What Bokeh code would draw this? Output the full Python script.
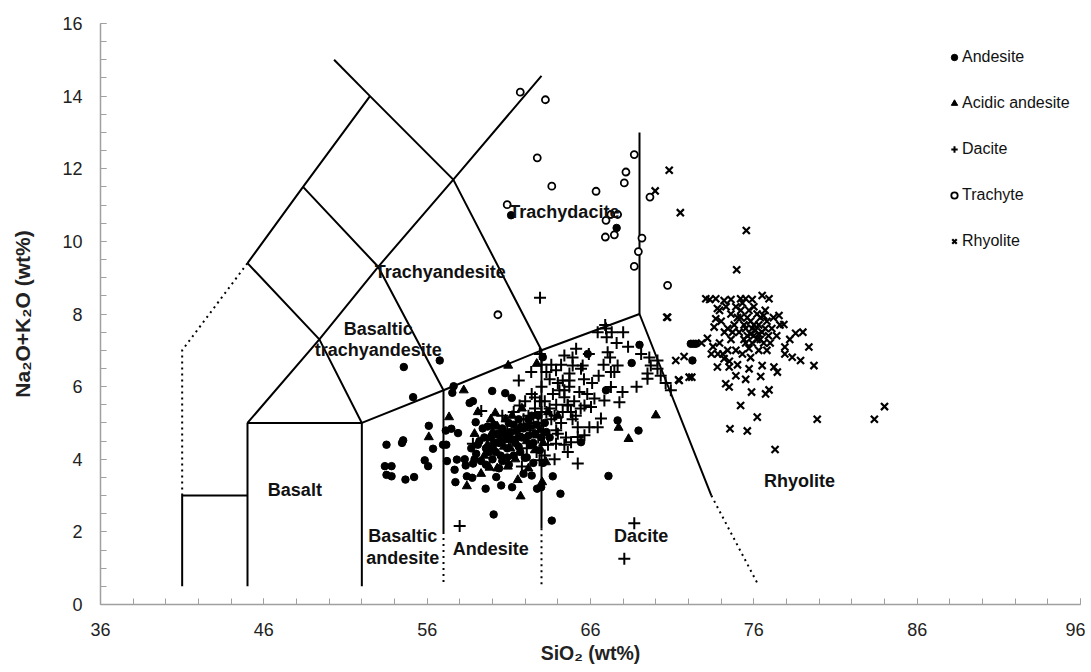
from bokeh.plotting import figure
from bokeh.models import Range1d, Label, Legend, LegendItem, FixedTicker
from bokeh.embed import file_html
from bokeh.resources import INLINE

# ---------------- data ----------------
andesite_x = [53.41, 53.82, 53.51, 53.82, 54.67, 55.2, 53.51, 54.53, 54.46, 55.85, 56.06, 56.1, 56.36, 56.97, 57.17,
              57.14, 57.48, 57.89, 54.57, 56.77, 55.14, 57.62, 57.54, 58.8, 58.6, 59.98, 60.78, 61.18, 58.97, 57.21,
              57.82, 57.68, 57.73, 58.36, 58.81, 58.43, 58.76, 59.58, 60.23, 60.53, 61.2, 60.07, 61.98, 62.73, 63.63,
              64.16, 62.98, 63.69, 67.1, 65.42, 67.66, 68.94, 68.52, 69.0, 65.83, 63.08, 66.95, 67.6, 61.14, 72.14,
              72.3, 72.45, 72.24,
              59.2, 59.6, 59.9, 60.2, 60.4, 60.7, 60.9, 61.2, 61.5, 61.3, 61.8, 62.0, 62.3, 62.6, 62.2, 60.0, 60.6,
              61.6, 59.4, 60.1, 61.0, 62.8, 63.2, 63.5, 62.5, 59.0, 58.7, 58.3, 59.3, 60.4, 61.9, 62.4, 63.1,
              59.5, 59.8, 60.1, 60.3, 60.5, 60.8, 61.1, 61.4, 61.7, 61.9, 62.2, 62.5, 62.7, 63.0, 60.6, 61.3,
              59.7, 60.9, 62.1, 62.9, 63.3, 59.1, 60.0, 61.6, 62.4, 58.9, 59.6, 61.0]
andesite_y = [3.81, 3.81, 3.57, 3.53, 3.44, 3.51, 4.40, 4.52, 4.45, 3.97, 3.81, 4.92, 4.29, 4.40, 4.40,
              4.79, 4.84, 4.72, 6.54, 6.72, 5.71, 6.01, 5.83, 5.60, 5.55, 5.88, 5.82, 5.69, 5.02, 3.95,
              3.99, 3.71, 3.37, 3.83, 3.88, 3.53, 3.49, 3.19, 3.51, 3.28, 3.23, 2.48, 4.04, 3.19, 2.31,
              3.05, 3.23, 3.53, 3.54, 4.47, 5.07, 4.79, 6.65, 7.15, 6.90, 6.81, 5.90, 10.37, 10.72, 7.18,
              7.18, 7.18, 6.72,
              4.5, 4.3, 4.6, 4.2, 4.45, 4.7, 4.3, 4.55, 4.8, 4.1, 4.6, 4.9, 4.4, 4.7, 5.1, 4.0, 3.95,
              4.35, 4.85, 4.95, 5.0, 5.2, 5.0, 4.6, 3.9, 4.15, 4.3, 4.0, 3.95, 3.75, 3.6, 3.55, 3.9,
              4.6, 4.2, 4.45, 4.7, 4.1, 4.55, 4.75, 4.45, 4.2, 4.85, 4.65, 4.45, 4.95, 4.6, 4.85, 4.95,
              4.9, 4.05, 4.05, 4.25, 4.75, 4.4, 4.3, 5.1, 5.2, 4.0, 3.85, 3.85]

acidic_x = [58.24, 60.96, 57.34, 60.17, 59.82, 58.43, 61.55, 61.72, 60.94, 60.29, 56.1, 62.2, 70.0, 67.72, 68.33,
            63.28, 63.04, 62.71, 59.7, 60.5, 61.1, 61.7, 62.1, 60.8, 59.5, 58.9, 62.9, 63.4, 61.4, 60.3, 59.1,
            64.0, 61.8, 59.3, 60.0, 60.7, 61.5, 62.3, 62.6, 59.9, 61.2, 63.1]
acidic_y = [5.9, 6.58, 5.16, 5.27, 3.77, 3.26, 3.43, 2.98, 3.8, 3.75, 4.61, 3.75, 5.21, 4.87, 4.56,
            3.92, 3.37, 6.63, 4.4, 4.6, 4.3, 4.9, 4.5, 5.1, 4.1, 4.7, 4.8, 5.3, 4.0, 4.9, 5.3,
            5.2, 5.4, 3.6, 4.75, 4.35, 4.6, 4.9, 4.25, 5.1, 5.2, 4.45]

dacite_x = [57.99, 68.68, 68.07, 62.91, 59.31, 58.8, 61.8, 61.66, 62.37, 61.61, 66.44, 66.95, 66.99, 65.12, 64.4,
            67.05, 65.52, 64.91, 65.42, 63.89, 64.71, 67.66, 67.46, 67.25, 64.3, 64.71, 69.69, 69.49, 69.49, 70.1,
            70.1, 68.82, 70.92, 65.32, 67.25, 67.96, 67.77, 66.85, 66.24, 65.63, 66.03, 64.4, 64.61, 66.64, 65.93,
            66.44, 65.22, 65.63, 65.22, 64.81, 63.89, 64.61, 65.22, 62.88,
            62.5, 62.8, 63.1, 63.3, 63.6, 63.9, 64.2, 63.4, 62.9, 63.7, 64.0, 64.3, 62.6, 63.0, 63.5, 64.1, 62.3,
            61.9, 61.5, 62.1, 61.3, 60.9, 60.6, 62.7, 63.2, 63.8, 64.5, 64.9, 65.0, 64.7, 62.4, 62.0, 63.6, 63.0,
            62.9, 60.2, 61.0,
            62.2, 62.6, 63.2, 63.5, 63.8, 64.0, 64.4, 64.6, 64.8, 65.1, 65.4, 65.8, 66.1, 66.5, 66.8, 67.2, 67.6,
            68.0, 65.9, 65.6, 64.9, 64.2, 63.3, 63.9, 64.4, 63.0, 62.8, 61.7, 61.1, 60.4, 66.9, 67.3, 68.3, 69.1,
            69.6, 70.3, 70.6]
dacite_y = [2.16, 2.24, 1.26, 8.45, 5.33, 4.43, 3.8, 5.48, 6.4, 6.17, 7.5, 7.6, 7.36, 7.04, 6.86,
            6.95, 6.58, 6.58, 6.49, 6.45, 6.36, 6.58, 6.4, 6.4, 6.17, 6.17, 6.58, 6.36, 6.22, 6.72,
            6.49, 6.0, 5.9, 5.85, 5.99, 5.85, 5.57, 5.62, 5.67, 5.48, 5.44, 5.71, 5.48, 5.12, 4.88,
            4.88, 4.88, 4.66, 4.61, 4.47, 4.43, 4.2, 3.88, 3.97,
            5.0, 4.6, 4.8, 5.3, 5.1, 5.5, 5.0, 4.4, 5.6, 5.8, 4.7, 5.3, 5.4, 6.0, 6.2, 5.9, 4.8,
            5.1, 4.7, 4.3, 5.3, 4.8, 5.2, 4.2, 4.1, 4.0, 4.6, 5.1, 5.6, 6.0, 5.8, 5.6, 6.6, 6.6,
            6.9, 4.4, 4.5,
            5.2, 5.7, 5.6, 5.4, 5.2, 6.1, 5.9, 5.5, 5.3, 5.2, 5.4, 5.8, 6.1, 6.3, 6.6, 6.8, 7.2,
            7.5, 6.9, 6.2, 6.8, 6.6, 6.4, 4.8, 4.4, 5.3, 5.0, 4.9, 4.6, 4.6, 7.7, 7.5, 7.1, 6.9,
            6.8, 6.3, 6.1]

trachyte_x = [61.7, 63.24, 62.74, 63.63, 60.9, 66.34, 68.68, 68.17, 68.07, 66.95, 67.25, 67.66, 66.91, 67.46,
              69.15, 68.93, 68.68, 69.64, 70.72, 60.33]
trachyte_y = [14.11, 13.9, 12.3, 11.52, 11.01, 11.38, 12.39, 11.91, 11.61, 10.58, 10.74, 10.74, 10.12, 10.18,
              10.09, 9.72, 9.31, 11.22, 8.79, 7.98]

rhyolite_x = [70.82, 69.96, 71.5, 75.54, 74.95, 70.72, 73.06, 73.67, 74.18, 73.77, 75.19, 75.5, 76.51, 76.93,
              77.54, 77.84, 78.56, 79.0, 79.37, 79.68, 78.86, 78.35, 77.9, 73.16, 73.67, 73.57, 71.22, 71.73,
              71.43, 72.04, 73.77, 74.49, 74.18, 74.28, 74.49, 75.71, 76.42, 76.51, 77.23, 77.44, 75.86, 76.72,
              76.93, 75.19, 76.21, 74.54, 75.6, 77.3, 79.88, 83.38, 84.0, 70.67, 71.39, 72.2,
              75.2, 75.5, 75.8, 76.0, 76.3, 76.5, 76.8, 76.2, 75.7, 76.6, 75.9, 75.4, 76.9, 77.1, 75.1, 74.8,
              74.6, 74.9, 75.3, 76.0, 76.7, 77.2, 74.6, 74.9, 75.3, 75.8, 76.3, 74.2, 74.4, 74.0, 74.3, 73.9,
              74.1, 75.6, 76.1, 75.0, 76.4, 74.5, 75.0, 73.8, 73.5,
              75.4, 75.6, 75.9, 76.2, 76.4, 76.7, 75.8, 76.0, 76.3, 75.5, 76.6, 75.2, 77.0, 74.7, 76.8, 75.7,
              77.4, 74.4, 73.9, 73.3, 74.6, 75.9, 77.6, 78.2, 77.9, 74.9, 75.5, 73.4, 72.8]
rhyolite_y = [11.96, 11.39, 10.79, 10.3, 9.22, 7.91, 8.42, 8.42, 8.37, 8.15, 8.42, 8.42, 8.51, 8.42,
              7.96, 7.71, 7.47, 7.5, 7.09, 6.58, 6.72, 6.81, 7.09, 7.33, 7.87, 7.64, 6.72, 6.83,
              6.17, 6.26, 6.54, 6.54, 6.77, 6.08, 5.99, 6.49, 6.28, 6.58, 6.54, 6.4, 5.85, 5.8,
              5.91, 5.48, 5.16, 4.84, 4.78, 4.27, 5.1, 5.1, 5.45, 7.91, 6.19, 6.26,
              7.9, 7.6, 7.8, 7.4, 7.7, 7.5, 7.8, 8.0, 8.1, 7.2, 7.2, 7.3, 7.4, 7.6, 7.5, 7.7,
              8.0, 8.2, 8.3, 8.2, 8.1, 7.9, 7.3, 7.0, 6.9, 6.8, 7.0, 7.5, 7.0, 7.8, 8.2, 7.2,
              6.9, 7.4, 7.55, 7.9, 7.3, 6.7, 6.6, 6.9, 7.1,
              7.7, 7.9, 7.6, 7.3, 7.9, 7.6, 7.45, 7.7, 7.45, 7.2, 7.95, 8.1, 7.2, 7.5, 7.0, 7.05,
              7.4, 7.6, 8.1, 8.4, 8.4, 8.4, 7.7, 7.3, 6.9, 6.3, 6.2, 6.9, 7.2]

# TAS field boundaries (SiO2, Na2O+K2O)
solid_lines = [
    ([41, 41, 45], [0.5, 3, 3]),
    ([45, 45, 52, 52], [0.5, 5, 5, 0.5]),
    ([45, 49.4, 53, 57.6, 63], [5, 7.3, 9.3, 11.7, 14.56]),
    ([45, 48.4, 52.5, 57.6, 63], [9.4, 11.5, 14, 11.7, 7]),
    ([50.3, 52.5], [15, 14]),
    ([45, 49.4, 52], [9.4, 7.3, 5]),
    ([48.4, 53, 57, 57], [11.5, 9.3, 5.9, 2.0]),
    ([52, 57, 63, 69, 73.4], [5, 5.9, 7, 8, 3.0]),
    ([63, 63], [7, 2.1]),
    ([69, 69], [8, 13]),
]
dotted_lines = [
    ([41, 41, 45], [3, 7, 9.4]),
    ([57, 57], [2.0, 0.55]),
    ([63, 63], [2.1, 0.55]),
    ([73.4, 76.2], [3.0, 0.6]),
]

field_names = ["Trachydacite", "Trachyandesite", "Basaltic", "trachyandesite", "Basalt",
               "Basaltic", "andesite", "Andesite", "Dacite", "Rhyolite"]
field_x = [64.4, 56.8, 53.0, 53.0, 47.9, 54.5, 54.5, 59.9, 69.1, 78.8]
field_y = [10.8, 9.15, 7.6, 7.0, 3.14, 1.9, 1.27, 1.54, 1.9, 3.4]

# ---------------- figure ----------------
FONT = "Liberation Sans"
p = figure(width=1085, height=668, output_backend="svg", toolbar_location=None,
           x_range=Range1d(36, 96), y_range=Range1d(0, 16),
           min_border_left=100, min_border_top=23, min_border_bottom=64, min_border_right=5)
p.grid.visible = False
p.outline_line_color = None
p.background_fill_color = "white"

for xs, ys in solid_lines:
    p.line(xs, ys, line_color="black", line_width=2)
for xs, ys in dotted_lines:
    p.line(xs, ys, line_color="black", line_width=2, line_dash="2 4")

r_and = p.scatter(andesite_x, andesite_y, marker="circle", size=7.5, fill_color="black", line_color="black")
r_acd = p.scatter(acidic_x, acidic_y, marker="triangle", size=9, fill_color="black", line_color="black")
r_dac = p.scatter(dacite_x, dacite_y, marker="cross", size=12, line_color="black", line_width=2)
r_tra = p.scatter(trachyte_x, trachyte_y, marker="circle", size=7, fill_color="white", line_color="black", line_width=1.8)
r_rhy = p.scatter(rhyolite_x, rhyolite_y, marker="x", size=10, line_color="black", line_width=2.2)

for name, fx, fy in zip(field_names, field_x, field_y):
    p.add_layout(Label(x=fx, y=fy, text=name, text_font=FONT, text_font_style="bold",
                       text_font_size="18px", text_align="center", text_baseline="middle",
                       text_color="#111111"))

legend = Legend(items=[LegendItem(label="Andesite", renderers=[r_and]),
                       LegendItem(label="Acidic andesite", renderers=[r_acd]),
                       LegendItem(label="Dacite", renderers=[r_dac]),
                       LegendItem(label="Trachyte", renderers=[r_tra]),
                       LegendItem(label="Rhyolite", renderers=[r_rhy])],
                location=(846, 353), orientation="vertical",
                label_text_font=FONT, label_text_font_size="16px", label_text_color="#111111",
                glyph_width=16, glyph_height=20, label_height=20, label_standoff=0, spacing=26,
                padding=0, margin=0, background_fill_alpha=0, border_line_alpha=0)
p.add_layout(legend, "center")

p.xaxis.ticker = FixedTicker(ticks=[36, 46, 56, 66, 76, 86, 96],
                             minor_ticks=list(range(36, 97, 2)))
p.yaxis.ticker = FixedTicker(ticks=[0, 2, 4, 6, 8, 10, 12, 14, 16],
                             minor_ticks=[i * 0.5 for i in range(0, 33)])
for ax in (p.xaxis, p.yaxis):
    ax.axis_line_color = "#a0a0a0"
    ax.axis_line_width = 1.5
    ax.major_tick_line_color = "#a0a0a0"
    ax.minor_tick_line_color = "#a0a0a0"
    ax.major_tick_in = 6
    ax.major_tick_out = 0
    ax.minor_tick_in = 6
    ax.minor_tick_out = 0
    ax.major_label_text_font = FONT
    ax.major_label_text_font_size = "18px"
    ax.major_label_text_color = "#222222"
    ax.axis_label_text_font = FONT
    ax.axis_label_text_font_style = "bold"
    ax.axis_label_text_color = "#222222"

p.xaxis.axis_label_text_font_size = "19.5px"
p.yaxis.axis_label_text_font_size = "21px"
p.xaxis.axis_label = "SiO\u2082 (wt%)"
p.yaxis.axis_label = "Na\u2082O+K\u2082O (wt%)"
p.xaxis.major_label_standoff = 18
p.xaxis.axis_label_standoff = 3
p.yaxis.major_label_standoff = 18
p.yaxis.axis_label_standoff = 25

open("out.html", "w").write(file_html(p, INLINE))
